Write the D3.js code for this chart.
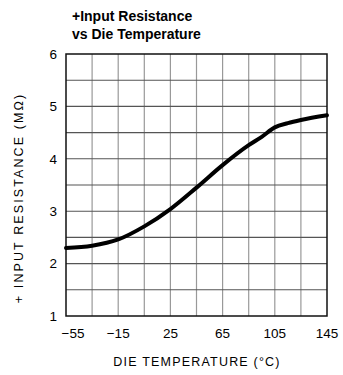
<!DOCTYPE html>
<html><head><meta charset="utf-8">
<script src="https://cdn.jsdelivr.net/npm/d3@7"></script>
<style>body{margin:0;background:#fff}svg{display:block}</style>
</head><body>
<script>
const temps = [-55, -35, -15, 5, 25, 45, 65, 85, 95, 105, 115, 125, 145];
const resistance = [2.30, 2.34, 2.46, 2.71, 3.04, 3.45, 3.88, 4.26, 4.42, 4.60, 4.68, 4.74, 4.83];
const xTicks = [-55, -15, 25, 65, 105, 145];
const yTicks = [1, 2, 3, 4, 5, 6];
const titleLines = ["+Input Resistance", "vs Die Temperature"];
const xTitle = "DIE TEMPERATURE (°C)";
const yTitle = "+ INPUT RESISTANCE (MΩ)";

const W = 343, H = 375;
const m = {l: 66, r: 16, t: 54, b: 59};
const svg = d3.select("body").append("svg").attr("width", W).attr("height", H);
const x = d3.scaleLinear().domain([-55, 145]).range([m.l, W - m.r]);
const y = d3.scaleLinear().domain([1, 6]).range([H - m.b, m.t]);

const g = svg.append("g");
// vertical grid
g.selectAll(".vg").data(d3.range(-35, 145, 20)).join("line")
  .attr("x1", d => x(d)).attr("x2", d => x(d)).attr("y1", y(1)).attr("y2", y(6))
  .attr("stroke", "#999").attr("stroke-width", 1.2);
// horizontal grid
g.selectAll(".hg").data(d3.range(1.5, 6, 0.5)).join("line")
  .attr("y1", d => y(d)).attr("y2", d => y(d)).attr("x1", x(-55)).attr("x2", x(145))
  .attr("stroke", "#555").attr("stroke-width", 1.1);
// frame
g.append("rect").attr("x", x(-55)).attr("y", y(6)).attr("width", x(145) - x(-55)).attr("height", y(1) - y(6))
  .attr("fill", "none").attr("stroke", "#111").attr("stroke-width", 1.5);

// curve
const line = d3.line().x((d, i) => x(temps[i])).y(d => y(d)).curve(d3.curveMonotoneX);
g.append("path").datum(resistance).attr("d", line).attr("fill", "none")
  .attr("stroke", "#000").attr("stroke-width", 4).attr("stroke-linecap", "round");

const font = "'Liberation Sans', Arial, sans-serif";
// y tick labels
svg.selectAll(".yl").data(yTicks).join("text")
  .attr("x", m.l - 9).attr("y", d => y(d)).attr("dy", "0.35em")
  .attr("text-anchor", "end").attr("font-family", font).attr("font-size", 13.5)
  .text(d => d);
// x tick labels
svg.selectAll(".xl").data(xTicks).join("text")
  .attr("x", d => x(d) + (d === -55 ? 7 : 0)).attr("y", 333).attr("dy", "0.35em")
  .attr("text-anchor", "middle").attr("font-family", font).attr("font-size", 13.5)
  .text(d => d < 0 ? "\u2212" + Math.abs(d) : d);
// axis titles
svg.append("text").attr("x", 197).attr("y", 362).attr("dy", "0.35em")
  .attr("text-anchor", "middle").attr("font-family", font).attr("font-size", 12.5)
  .attr("letter-spacing", 1.2).text(xTitle);
svg.append("text").attr("transform", "translate(19,198) rotate(-90)").attr("dy", "0.35em")
  .attr("text-anchor", "middle").attr("font-family", font).attr("font-size", 12.5)
  .attr("letter-spacing", 2.1).text(yTitle);
// title
svg.selectAll(".tt").data(titleLines).join("text")
  .attr("x", 72).attr("y", (d, i) => 21 + i * 18)
  .attr("font-family", font).attr("font-size", 14).attr("font-weight", "bold")
  .text(d => d);
</script>
</body></html>
